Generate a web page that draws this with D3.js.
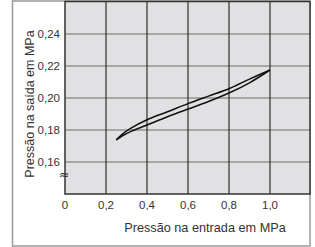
<!DOCTYPE html>
<html><head><meta charset="utf-8">
<script src="https://cdn.jsdelivr.net/npm/d3@7"></script>
<style>body{margin:0;background:#fff}svg{display:block;font-family:"Liberation Sans",Arial,sans-serif}</style>
</head><body><svg id="c" width="315" height="247"></svg>
<script>
const xTicks = [0, 0.2, 0.4, 0.6, 0.8, 1.0];
const xTickLabels = ["0", "0,2", "0,4", "0,6", "0,8", "1,0"];
const yTicks = [0.16, 0.18, 0.20, 0.22, 0.24];
const yTickLabels = ["0,16", "0,18", "0,20", "0,22", "0,24"];
const upperX = [0.25, 0.28, 0.32, 0.4, 0.5, 0.6, 0.7, 0.8, 0.9, 1.0];
const upperY = [0.1738, 0.1774, 0.1810, 0.1864, 0.1914, 0.1965, 0.2012, 0.2058, 0.2118, 0.2175];
const lowerX = [1.0, 0.9, 0.8, 0.7, 0.6, 0.5, 0.4, 0.32, 0.28, 0.25];
const lowerY = [0.2175, 0.2095, 0.2031, 0.1978, 0.1931, 0.1883, 0.1831, 0.1790, 0.1764, 0.1738];
const xTitle = "Pressão na entrada em MPa";
const yTitle = "Pressão na saída em MPa";

const svg = d3.select("#c");
const x = d3.scaleLinear().domain([0, 1.2]).range([65, 311]);
const y = d3.scaleLinear().domain([0.14, 0.26]).range([194, 2]);

svg.append("rect").attr("x", 12.5).attr("y", 1).attr("width", 297.5).attr("height", 245)
  .attr("fill", "#fff").attr("stroke", "#9a9a9a").attr("stroke-width", 1.5);
svg.append("rect").attr("x", 65).attr("y", 1).attr("width", 245).attr("height", 193)
  .attr("fill", "#e1e1e3");

svg.append("g").selectAll("line").data(yTicks).join("line")
  .attr("x1", 65).attr("x2", 310).attr("y1", d => y(d)).attr("y2", d => y(d))
  .attr("stroke", "#6e6e6e").attr("stroke-width", 1.2);
svg.append("g").selectAll("line").data(xTicks.slice(1)).join("line")
  .attr("x1", d => x(d)).attr("x2", d => x(d)).attr("y1", 1).attr("y2", 194)
  .attr("stroke", "#2e2e2e").attr("stroke-width", 1.2);
svg.append("path").attr("d", "M65,1.5H310V194H65Z").attr("fill", "none").attr("stroke", "#333").attr("stroke-width", 1.5);

const lineGen = d3.line().x(d => x(d[0])).y(d => y(d[1])).curve(d3.curveCatmullRom);
svg.append("path").datum(upperX.map((v, i) => [v, upperY[i]]))
  .attr("d", lineGen).attr("fill", "none").attr("stroke", "#111").attr("stroke-width", 1.5);
svg.append("path").datum(lowerX.map((v, i) => [v, lowerY[i]]))
  .attr("d", lineGen).attr("fill", "none").attr("stroke", "#111").attr("stroke-width", 1.5);

svg.append("g").selectAll("text").data(yTicks).join("text")
  .attr("x", 60).attr("y", d => y(d)).attr("dy", "0.35em").attr("text-anchor", "end")
  .attr("font-size", 11.5).attr("fill", "#333").text((d, i) => yTickLabels[i]);
svg.append("g").selectAll("text").data(xTicks).join("text")
  .attr("x", d => x(d)).attr("y", 209).attr("text-anchor", "middle")
  .attr("font-size", 11.5).attr("fill", "#333").text((d, i) => xTickLabels[i]);
svg.append("text").attr("x", 64).attr("y", 174).attr("dy", "0.35em").attr("text-anchor", "middle")
  .attr("font-family", "DejaVu Sans").attr("font-size", 13).attr("fill", "#333").text("≈");
svg.append("text").attr("x", 205).attr("y", 232).attr("text-anchor", "middle")
  .attr("font-size", 12.7).attr("fill", "#333").text(xTitle);
svg.append("text").attr("transform", "translate(34,104) rotate(-90)").attr("text-anchor", "middle")
  .attr("font-size", 12.5).attr("fill", "#333").text(yTitle);
</script></body></html>
